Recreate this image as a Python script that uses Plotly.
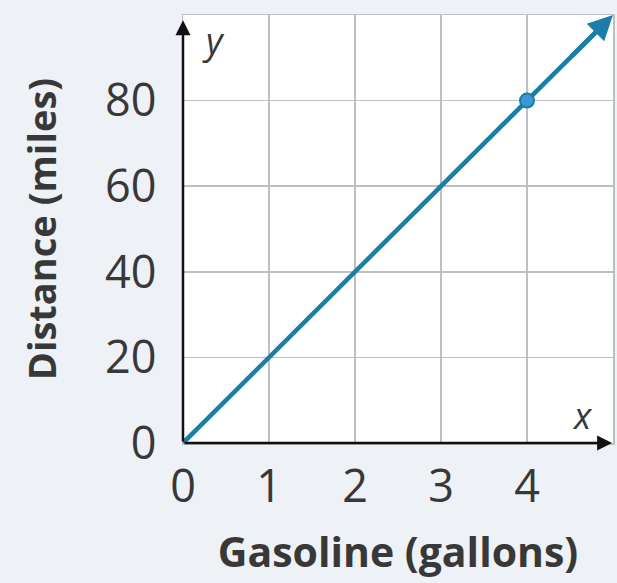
import plotly.graph_objects as go

gallons = [0, 1, 2, 3, 4, 5]
distance = [0, 20, 40, 60, 80, 100]
highlight_x = [4]
highlight_y = [80]
x_ticks = [0, 1, 2, 3, 4]
y_ticks = [0, 20, 40, 60, 80]
x_title = "Gasoline (gallons)"
y_title = "Distance (miles)"

line_color = "#1a7ea8"
grid_color = "#bcbfc3"
text_color = "#383838"
font_family = "Open Sans"

fig = go.Figure()

fig.add_trace(go.Scatter(
    x=gallons[:-1] + [gallons[-1] - 0.1], y=distance[:-1] + [distance[-1] - 2],
    mode="lines", line=dict(color=line_color, width=4.5), hoverinfo="skip", showlegend=False,
))
fig.add_trace(go.Scatter(
    x=highlight_x, y=highlight_y, mode="markers",
    marker=dict(size=14, color="#3b9ad4", line=dict(color=line_color, width=2)),
    showlegend=False, hoverinfo="skip",
))

annotations = []
annotations.append(dict(
    x=gallons[-1], y=distance[-1], ax=gallons[-2] + 0.5, ay=distance[-2] + 10,
    xref="x", yref="y", axref="x", ayref="y", text="", showarrow=True,
    arrowhead=2, arrowsize=1.1, arrowwidth=4.5, arrowcolor=line_color,
))
annotations.append(dict(
    x=4.99, y=0, ax=0, ay=0, xref="x", yref="y", axref="x", ayref="y",
    text="", showarrow=True, arrowhead=2, arrowsize=1.2, arrowwidth=2.5, arrowcolor="#111111",
))
annotations.append(dict(
    x=0, y=98.8, ax=0, ay=0, xref="x", yref="y", axref="x", ayref="y",
    text="", showarrow=True, arrowhead=2, arrowsize=1.2, arrowwidth=2.5, arrowcolor="#111111",
))
annotations.append(dict(x=0.35, y=94, xref="x", yref="y", text="<i>y</i>", showarrow=False,
                        font=dict(family=font_family, size=36, color=text_color)))
annotations.append(dict(x=4.65, y=6.5, xref="x", yref="y", text="<i>x</i>", showarrow=False,
                        font=dict(family=font_family, size=36, color=text_color)))

fig.update_layout(
    width=617, height=583,
    margin=dict(l=183, r=4, t=15, b=140, autoexpand=False),
    paper_bgcolor="#eef1f6", plot_bgcolor="#ffffff",
    font=dict(family=font_family, color=text_color),
    annotations=annotations,
    xaxis=dict(
        range=[0, 5], tickvals=x_ticks, ticktext=[str(v) for v in x_ticks],
        showgrid=True, gridcolor=grid_color, gridwidth=1.5,
        zeroline=False, showline=True, linecolor=grid_color, linewidth=1.5, mirror=True,
        ticks="outside", ticklen=3, tickcolor="rgba(0,0,0,0)",
        tickfont=dict(size=45, color=text_color),
        title=dict(text="<b>" + x_title + "</b>", font=dict(size=41, color=text_color), standoff=25),
        fixedrange=True, automargin=False,
    ),
    yaxis=dict(
        range=[0, 100], tickvals=y_ticks, ticktext=[str(v) for v in y_ticks],
        showgrid=True, gridcolor=grid_color, gridwidth=1.5,
        zeroline=False, showline=True, linecolor=grid_color, linewidth=1.5, mirror=True,
        ticks="outside", ticklen=16, tickcolor="rgba(0,0,0,0)",
        tickfont=dict(size=45, color=text_color),
        title=dict(text="<b>" + y_title + "</b>", font=dict(size=38, color=text_color), standoff=36),
        fixedrange=True, automargin=False,
    ),
)

fig.write_html("out.html", config={"displayModeBar": False, "staticPlot": True})
with open("out.html", "r", encoding="utf-8") as f:
    html = f.read()
html = html.replace("<body>", '<body style="margin:0;padding:0;overflow:hidden">', 1)
with open("out.html", "w", encoding="utf-8") as f:
    f.write(html)
